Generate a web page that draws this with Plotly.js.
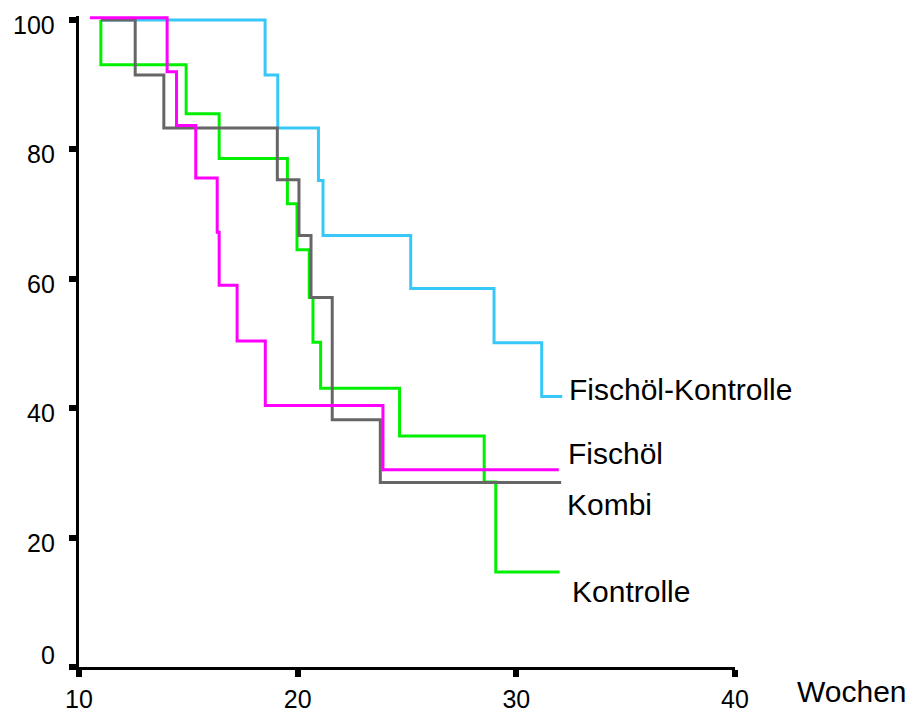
<!DOCTYPE html>
<html>
<head>
<meta charset="utf-8">
<script src="https://cdn.plot.ly/plotly-3.0.1.min.js"></script>
<style>
  html, body { margin: 0; padding: 0; background: #ffffff; }
  #chart { width: 917px; height: 713px; }
</style>
</head>
<body>
<div id="chart"></div>
<script>
// Survival-style step curves per group (weeks vs. percent)
const seriesNames = ['Fischöl-Kontrolle', 'Kontrolle', 'Kombi', 'Fischöl'];

const fischoelKontrolleWeeks = [11, 18.51, 19.09, 20.95, 21.16, 25.17, 28.98, 31.16, 32.1];
const fischoelKontrolleValues = [100, 91.5, 83.3, 75.2, 66.7, 58.5, 50.1, 41.8, 41.8];

const kontrolleWeeks = [11, 11, 14.9, 16.41, 19.53, 19.97, 20.53, 20.7, 21.05, 24.66, 28.53, 29.06, 31.98];
const kontrolleValues = [100, 93.1, 85.5, 78.6, 71.6, 64.5, 57.1, 50.2, 43.1, 35.7, 28.6, 14.7, 14.7];

const kombiWeeks = [11, 12.57, 13.88, 19.07, 20.06, 20.61, 21.58, 23.78, 32.05];
const kombiValues = [100, 91.5, 83.3, 75.3, 66.7, 57.1, 38.2, 28.5, 28.5];

const fischoelWeeks = [10.5, 14.03, 14.46, 15.34, 16.32, 16.41, 17.23, 18.52, 23.9, 31.94];
const fischoelValues = [100.35, 92.0, 83.7, 75.6, 67.2, 59.0, 50.4, 40.4, 30.5, 30.5];

const xTickVals = [10, 20, 30, 40];
const xTickText = ['10', '20', '30', '40'];
const yTickVals = [0, 20, 40, 60, 80, 100];
const yTickText = ['0', '20', '40', '60', '80', '100'];
const xAxisLabel = 'Wochen';

const groups = [
  { name: seriesNames[0], x: fischoelKontrolleWeeks, y: fischoelKontrolleValues, color: '#38c8f8', dx: 5, dy: 7 },
  { name: seriesNames[1], x: kontrolleWeeks, y: kontrolleValues, color: '#00f000', dx: 10, dy: -20 },
  { name: seriesNames[2], x: kombiWeeks, y: kombiValues, color: '#666666', dx: 4, dy: -21.5 },
  { name: seriesNames[3], x: fischoelWeeks, y: fischoelValues, color: '#ff00ff', dx: 7, dy: 16.5 }
];

const traces = groups.map(g => ({
  type: 'scatter',
  mode: 'lines',
  name: g.name,
  x: g.x,
  y: g.y,
  line: { shape: 'hv', color: g.color, width: 3 },
  hoverinfo: 'x+y+name'
}));

const fontFamily = '"Liberation Sans", Arial, Helvetica, sans-serif';

// End-of-curve labels
const annotations = groups.map(g => ({
  x: g.x[g.x.length - 1],
  y: g.y[g.y.length - 1],
  xref: 'x', yref: 'y',
  text: g.name,
  showarrow: false,
  xanchor: 'left', yanchor: 'middle',
  xshift: g.dx, yshift: g.dy,
  font: { family: fontFamily, size: 30, color: '#000000' }
}));

// Y tick labels sit slightly below their ticks; the zero label sits above
yTickVals.forEach((v, i) => {
  annotations.push({
    x: 0, y: v, xref: 'paper', yref: 'y',
    text: yTickText[i], showarrow: false,
    xanchor: 'right', yanchor: 'middle',
    xshift: -22, yshift: i === 0 ? 12 : -5,
    font: { family: fontFamily, size: 25, color: '#000000' }
  });
});

// Axis name to the right of the x axis
annotations.push({
  x: 1.0915, y: -0.038, xref: 'paper', yref: 'paper',
  text: xAxisLabel, showarrow: false,
  xanchor: 'left', yanchor: 'middle',
  font: { family: fontFamily, size: 30, color: '#000000' }
});

const layout = {
  width: 917,
  height: 713,
  margin: { l: 79, r: 182, t: 16, b: 45.5, pad: 0 },
  paper_bgcolor: '#ffffff',
  plot_bgcolor: '#ffffff',
  showlegend: false,
  font: { family: fontFamily, color: '#000000' },
  xaxis: {
    range: [10, 40],
    tickvals: xTickVals,
    ticktext: xTickText,
    ticks: 'outside',
    ticklen: 7,
    tickwidth: 6,
    tickcolor: '#000000',
    showline: true,
    linecolor: '#000000',
    linewidth: 3,
    showgrid: false,
    zeroline: false,
    ticklabelstandoff: 1,
    tickfont: { family: fontFamily, size: 25, color: '#000000' }
  },
  yaxis: {
    range: [0, 100.62],
    tickvals: yTickVals,
    showticklabels: false,
    ticks: 'outside',
    ticklen: 7,
    tickwidth: 6,
    tickcolor: '#000000',
    showline: true,
    linecolor: '#000000',
    linewidth: 3,
    showgrid: false,
    zeroline: false
  },
  annotations: annotations
};

Plotly.newPlot('chart', traces, layout, { displayModeBar: false, staticPlot: true });
</script>
</body>
</html>
